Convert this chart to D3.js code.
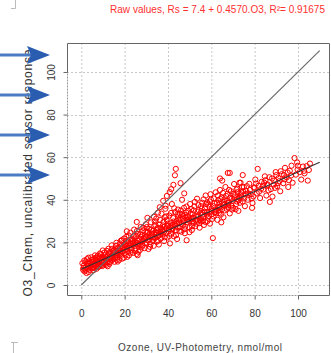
<!DOCTYPE html>
<html>
<head>
<meta charset="utf-8">
<script src="https://cdn.jsdelivr.net/npm/d3@7"></script>
<style>
  body { margin: 0; background: #fff; }
  svg { display: block; font-family: "Liberation Sans", Arial, sans-serif; }
</style>
</head>
<body>
<div id="chart"></div>
<script>
// title / axis texts
const titleText = "Raw values, Rs = 7.4 + 0.4570.O3, R\u00b2= 0.91675";
const xLabel = "Ozone, UV-Photometry, nmol/mol";
const yLabel = "O3_Chem, uncalibrated sensor response";

// tick values
const xTicks = [0, 20, 40, 60, 80, 100];
const yTicks = [0, 20, 40, 60, 80, 100];

// fit lines: intercept, slope, x-range
const fitLine = { a: 7.4, b: 0.457 };
const lineRange = [0, 110];

// ozone (UV photometry) vs sensor response
const pointsLow = [
  [0.8,7.2],[1.2,9.1],[1.5,6.4],[1.9,10.8],[2.2,8.3],[2.6,12.1],[2.9,7.5],[3.1,9.9],[3.4,6.1],[3.7,11.2],
  [4.0,8.6],[4.3,10.4],[4.6,13.0],[4.9,7.8],[5.2,9.5],[5.5,11.9],[5.8,8.2],[6.1,10.1],[6.4,12.7],[6.7,9.0],
  [7.0,7.6],[7.3,11.4],[7.6,13.8],[7.9,10.0],[8.2,8.7],[8.5,12.3],[8.8,9.6],[9.1,14.5],[9.4,11.0],[9.7,8.9],
  [10.0,12.6],[10.3,10.4],[10.6,15.2],[10.9,9.8],[11.2,13.1],[11.5,11.5],[11.8,16.0],[12.1,10.6],[12.4,14.0],[12.7,12.2],
  [13.0,9.9],[13.3,15.6],[13.6,13.0],[13.9,11.4],[14.2,17.0],[14.5,14.3],[14.8,12.1],[15.1,16.2],[15.4,10.9],[15.7,13.9],
  [16.0,18.3],[16.3,15.0],[16.6,12.9],[16.9,17.2],[17.2,14.6],[17.5,11.8],[17.8,19.5],[18.1,16.1],[18.4,13.7],[18.7,21.0],
  [19.0,15.4],[19.3,17.9],[19.6,12.8],[19.9,19.0],[20.2,16.6],[20.5,14.2],[20.8,22.6],[21.1,18.2],[21.4,15.7],[21.7,20.4],
  [22.0,13.9],[22.3,17.5],[22.6,24.5],[22.9,19.3],[23.2,16.4],[23.5,21.5],[23.8,15.1],[24.1,18.8],[24.4,26.0],[24.7,20.1],
  [25.0,17.2],[25.3,22.8],[25.6,14.6],[25.9,19.7],[26.2,24.0],[26.5,18.0],[26.8,21.3],[27.1,16.5],[27.4,27.2],[27.7,20.5],
  [28.0,23.4],[28.3,18.6],[28.6,25.6],[28.9,21.7],[29.2,17.3],[29.5,22.4],[29.8,28.5],[30.1,19.8],[30.4,24.6],[30.7,21.0],
  [31.0,16.9],[31.3,26.3],[31.6,22.5],[31.9,19.1],[32.2,29.4],[32.5,23.8],[32.8,20.7],[33.1,25.5],[33.4,18.4],[33.7,27.6],
  [34.0,22.0],[34.3,24.9],[34.6,31.2],[34.9,20.3],[35.2,26.8],[35.5,23.1],[35.8,19.0],[36.1,28.3],[36.4,25.0],[36.7,21.8],
  [37.0,33.5],[37.3,26.1],[37.6,23.7],[37.9,29.6],[38.2,20.6],[38.5,27.4],[38.8,35.8],[39.1,24.4],[39.4,30.5],[39.7,22.3],
  [40.0,27.9],[40.3,25.3],[40.6,32.6],[40.9,19.5],[41.2,29.0],[41.5,24.1],[41.8,38.0],[42.1,26.7],[42.4,31.4],[42.7,22.9],
  [43.0,28.6],[43.3,34.2],[43.6,25.6],[43.9,30.0],[44.2,21.6],[44.5,27.0],[44.8,32.1],[45.1,29.3],
  [1.0,8.0],[2.0,7.0],[3.0,8.9],[4.5,9.1],[5.0,10.6],[6.0,9.2],[7.5,10.3],[8.0,11.1],[9.0,10.8],[10.5,11.6],
  [11.0,12.4],[12.0,13.2],[13.5,12.5],[14.0,13.6],[15.0,14.9],[16.5,14.1],[17.0,16.0],[18.0,15.2],[19.5,16.3],[20.0,17.8],
  [21.0,16.9],[22.5,18.6],[23.0,17.4],[24.0,19.9],[25.5,19.0],[26.0,20.8],[27.0,19.2],[28.5,20.6],[29.0,21.4],[30.0,22.6],
  [31.5,21.5],[32.0,23.0],[33.0,22.4],[34.5,23.6],[35.0,24.5],[36.0,23.4],[37.5,25.4],[38.0,24.8],[39.0,26.5],[40.5,26.2],
  [41.0,27.2],[42.0,25.9],[43.5,27.7],[44.0,28.8],[45.5,27.5],
  [0.5,10.2],[1.4,11.5],[2.4,5.6],[3.3,12.8],[3.9,7.1],[4.8,11.8],[5.6,6.9],[6.3,13.9],[6.9,11.6],[7.8,8.4],
  [8.6,14.8],[9.3,9.2],[9.9,16.2],[10.8,13.9],[11.6,9.4],[12.5,17.0],[13.2,10.8],[14.0,18.6],[14.7,15.8],[15.5,12.6],
  [16.2,19.8],[16.8,11.0],[17.6,17.6],[18.3,20.8],[18.9,12.4],[19.7,21.8],[20.4,19.2],[21.2,13.2],[21.9,23.2],[22.7,15.2],
  [23.4,20.6],[24.2,23.0],[24.9,16.0],[25.7,25.4],[26.4,15.6],[27.2,23.8],[27.9,17.8],[28.7,26.8],[29.4,19.6],[30.2,27.2],
  [30.9,23.4],[31.7,17.9],[32.4,26.0],[33.2,21.2],[33.9,29.8],[34.7,25.8],[35.4,20.8],[36.3,30.6],[36.9,24.2],[37.7,28.0],
  [38.4,22.4],[39.2,32.2],[39.9,28.8],[40.7,23.0],[41.4,33.8],[42.2,28.2],[42.9,36.0],[43.7,23.4],[44.4,33.2],[45.3,25.4],
  [2.8,10.5],[5.3,8.3],[7.1,12.9],[9.6,13.0],[12.9,14.8],[15.9,16.9],[18.6,18.3],[21.6,19.5],[24.6,21.8],[27.6,22.6],
  [30.6,25.0],[33.6,24.4],[36.6,26.8],[39.6,27.6],[42.6,29.8],[45.0,30.6],
  [3.6,10.0],[8.3,13.4],[12.2,8.8],[16.4,11.8],[20.6,20.6],[26.0,14.0],[29.6,25.0],[34.2,28.2],[38.6,31.8],[44.6,35.4]
];

const pointsMid = [
  [45.8,30.8],[46.2,25.0],[46.6,33.4],[47.0,28.1],[47.4,36.2],[47.8,24.3],[48.2,31.6],[48.6,21.0],[49.0,29.5],[49.4,34.8],
  [49.8,27.0],[50.2,38.0],[50.6,31.0],[51.0,25.8],[51.4,33.2],[51.8,29.1],[52.2,36.9],[52.6,27.6],[53.0,32.4],[53.4,40.5],
  [53.8,30.2],[54.2,35.1],[54.6,26.9],[55.0,33.8],[55.4,29.8],[55.8,38.6],[56.2,31.9],[56.6,28.2],[57.0,36.0],[57.4,42.0],
  [57.8,33.0],[58.2,30.0],[58.6,37.8],[59.0,34.4],[59.4,28.8],[59.8,40.1],[60.2,35.6],[60.7,22.0],[61.0,32.2],[61.5,38.4],
  [62.0,43.5],[62.4,34.9],[62.8,30.6],[63.2,39.8],[63.6,36.4],[64.0,44.6],[64.4,33.0],[64.8,41.2],[65.2,37.6],[65.6,31.8],
  [66.0,40.2],[66.5,46.0],[67.0,35.8],[67.5,42.8],[68.0,38.7],[68.5,33.6],[69.0,44.0],[69.5,40.6],[70.0,36.2],[70.5,47.4],
  [71.0,42.2],[71.5,38.0],[72.0,45.2],[72.5,34.8],[73.0,41.0],[73.5,48.0],[74.0,43.4],[74.5,39.2],[75.0,46.0],[75.5,37.0],
  [47.2,29.9],[48.8,30.5],[50.0,30.0],[52.0,31.5],[54.0,32.2],[56.0,33.0],[58.0,34.2],[60.0,34.6],[62.0,35.5],[64.0,36.8],
  [66.0,37.6],[68.0,38.4],[70.0,39.6],[72.0,40.4],[74.0,41.5],
  [46.0,35.0],[46.9,31.2],[47.6,26.2],[48.4,34.0],[49.2,32.2],[49.9,24.8],[50.8,35.6],[51.6,31.6],[52.4,39.0],[53.2,28.8],
  [54.0,37.6],[54.8,30.6],[55.6,35.8],[56.4,40.2],[57.2,29.6],[58.0,38.8],[58.8,32.4],[59.6,42.6],[60.4,31.0],[61.2,40.6],
  [62.2,33.6],[63.0,42.0],[63.8,38.2],[64.6,29.4],[65.4,43.2],[66.2,35.0],[67.2,39.6],[68.2,44.6],[69.2,37.2],[70.2,42.8],
  [71.2,35.6],[72.2,43.6],[73.2,38.6],[74.2,46.0],[75.2,40.6],
  [48.0,32.8],[51.2,29.9],[55.2,31.4],[59.2,36.6],[63.4,35.0],[67.8,36.4],[71.8,39.2],
  [45.4,33.6],[46.4,28.6],[47.1,32.4],[47.9,27.4],[48.5,36.8],[49.5,30.8],[50.4,33.6],[51.1,27.6],[51.9,35.0],[52.8,30.4],
  [53.6,34.2],[54.4,29.0],[55.3,37.0],[56.1,30.0],[56.9,34.4],[57.6,38.0],[58.4,31.6],[59.3,39.2],[60.1,33.2],[60.9,37.0],
  [61.7,34.2],[62.6,38.6],[63.5,33.8],[64.2,40.4],[65.0,35.6],[65.8,39.0],[66.8,41.8],[67.6,37.4],[68.6,40.8],[69.6,35.4],
  [70.6,41.2],[71.6,44.8],[72.6,39.8],[73.6,42.6],[74.6,44.0]
];

const pointsHigh = [
  [76.0,44.2],[76.8,40.0],[77.5,47.5],[78.2,42.6],[79.0,38.5],[79.6,45.8],[80.3,49.5],[81.0,43.0],[81.4,54.5],[81.8,46.6],
  [82.5,40.8],[83.2,48.4],[84.0,44.8],[84.7,51.0],[85.4,42.0],[86.0,47.2],[86.8,50.6],[87.5,45.0],[88.2,41.5],[89.0,49.0],
  [89.7,53.0],[90.4,46.4],[91.0,50.2],[91.8,44.0],[92.5,52.0],[93.2,47.8],[94.0,55.0],[94.8,50.5],[95.5,46.0],[96.2,53.6],
  [97.0,56.0],[97.5,48.0],[98.4,59.6],[99.0,51.8],[99.6,57.5],[100.0,56.0],[100.8,53.0],[101.5,49.5],[102.3,55.6],[103.0,52.4],
  [104.5,49.0],[105.0,54.0],[105.5,57.0],[78.8,36.2],[87.0,39.0],
  [77.0,43.0],[80.0,45.6],[83.0,45.2],[85.8,46.8],[88.8,47.2],[91.5,48.8],[93.8,49.6],[96.8,51.4],[99.8,54.2],[102.8,53.6],
  [104.0,55.8],[79.4,41.6],[84.4,48.0],[90.0,51.6],[95.2,52.8],
  [75.8,42.6],[76.4,46.4],[77.8,44.6],[78.6,40.6],[80.6,47.6],[82.0,43.8],[83.8,46.6],[85.0,49.2],[86.4,44.4],[88.0,50.0],
  [89.4,45.6],[90.8,47.8],[92.0,53.4],[93.6,51.6],[95.8,49.2]
];

// points sprayed above the band, towards the 1:1 line
const outliers = [
  [33.5,32.0],[36.2,36.5],[37.8,39.5],[39.5,41.8],[40.8,43.6],[42.5,47.0],[43.2,51.5],[43.6,54.5],[45.8,47.8],[41.5,45.0],
  [38.9,37.2],[35.4,34.0],[25.6,29.6],[21.0,25.2],[30.5,31.5],[46.5,40.0],[47.5,43.0],
  [64.0,50.0],[65.0,49.0],[67.6,52.6],[68.5,52.6],[73.0,48.0],[74.5,51.6]
];

// arrows overlaid on the y label (pixel rows of the annotation)
const arrowRows = [55, 95, 135, 175];

const width = 331, height = 353;
const plot = { left: 67, right: 329, top: 43, bottom: 295 };

const x = d3.scaleLinear().domain([-6.6, 114.3]).range([plot.left, plot.right]);
const y = d3.scaleLinear().domain([-4.7, 113.6]).range([plot.bottom, plot.top]);

const svg = d3.select("#chart").append("svg")
  .attr("width", width)
  .attr("height", height);

// corner marks of the cropped page
svg.append("path")
  .attr("d", "M15.5,0V8.5H11")
  .attr("fill", "none").attr("stroke", "#bbb");
svg.append("path")
  .attr("d", "M11,342.5H18M13.5,342.5V353")
  .attr("fill", "none").attr("stroke", "#bbb");

// grid
const grid = svg.append("g").attr("stroke", "#c8c8c8").attr("stroke-dasharray", "2,2");
grid.selectAll(".gx").data(xTicks).enter().append("line")
  .attr("x1", d => x(d) + 0.5).attr("x2", d => x(d) + 0.5)
  .attr("y1", plot.top).attr("y2", plot.bottom);
grid.selectAll(".gy").data(yTicks).enter().append("line")
  .attr("y1", d => Math.round(y(d)) + 0.5).attr("y2", d => Math.round(y(d)) + 0.5)
  .attr("x1", plot.left).attr("x2", plot.right);

// points
const allPoints = pointsLow.concat(pointsMid, pointsHigh, outliers);
svg.append("g").selectAll("circle")
  .data(allPoints).enter().append("circle")
  .attr("cx", d => x(d[0]))
  .attr("cy", d => y(d[1]))
  .attr("r", 2.6)
  .attr("fill", "none")
  .attr("stroke", "#ff0000")
  .attr("stroke-width", 1);

// 1:1 line and fitted line
const line = d3.line().x(d => x(d[0])).y(d => y(d[1]));
svg.append("path")
  .datum(lineRange.map(v => [v, v]))
  .attr("d", line)
  .attr("fill", "none").attr("stroke", "#666").attr("stroke-width", 1.1);
svg.append("path")
  .datum(lineRange.map(v => [v, fitLine.a + fitLine.b * v]))
  .attr("d", line)
  .attr("fill", "none").attr("stroke", "#333").attr("stroke-width", 1.1);

// frame (solid outside the axis range)
const x0 = Math.round(x(0)) + 0.5, x100 = Math.round(x(100)) + 0.5;
const y0 = Math.round(y(0)) + 0.5, y100 = Math.round(y(100)) + 0.5;
svg.append("path")
  .attr("d", "M" + (plot.left + 0.5) + "," + y100 + "V" + (plot.top + 0.5) + "H" + (plot.right + 0.5) +
             "V" + (plot.bottom + 0.5) + "H" + x100 +
             "M" + x0 + "," + (plot.bottom + 0.5) + "H" + (plot.left + 0.5) + "V" + y0)
  .attr("fill", "none").attr("stroke", "#666");

// x-axis
const xAxis = svg.append("g")
  .attr("transform", "translate(0," + (plot.bottom + 0.5) + ")")
  .call(d3.axisBottom(x).tickValues(xTicks).tickSize(4).tickPadding(10).tickSizeOuter(0));
xAxis.select(".domain").attr("d", "M" + x0 + ",0H" + x100).attr("stroke", "#999").attr("stroke-dasharray", "2,1");
xAxis.selectAll(".tick line").attr("stroke", "#666");
xAxis.selectAll(".tick text").attr("fill", "#333").style("font-size", "10px");

// y-axis (labels rotated, R style)
const yAxis = svg.append("g")
  .attr("transform", "translate(" + (plot.left + 0.5) + ",0)")
  .call(d3.axisLeft(y).tickValues(yTicks).tickSize(4).tickSizeOuter(0));
yAxis.select(".domain").attr("d", "M0," + y0 + "V" + y100).attr("stroke", "#999").attr("stroke-dasharray", "2,1");
yAxis.selectAll(".tick line").attr("stroke", "#666");
yAxis.selectAll(".tick text")
  .attr("x", 0).attr("dy", null)
  .attr("transform", "translate(-13,0) rotate(-90)")
  .attr("text-anchor", "middle")
  .attr("fill", "#333")
  .style("font-size", "10px");

// axis titles
svg.append("text")
  .attr("x", 200).attr("y", 351)
  .attr("text-anchor", "middle")
  .attr("fill", "#444")
  .attr("textLength", 164)
  .style("font-size", "10px")
  .text(xLabel);

svg.append("text")
  .attr("transform", "translate(32,173) rotate(-90)")
  .attr("text-anchor", "middle")
  .attr("fill", "#333")
  .attr("textLength", 247)
  .style("font-size", "12px")
  .text(yLabel);

// title
svg.append("text")
  .attr("x", 325).attr("y", 13)
  .attr("text-anchor", "end")
  .attr("fill", "#ff3030")
  .attr("textLength", 215)
  .style("font-size", "10px")
  .text(titleText);

// blue arrows
const arrows = svg.append("g");
arrows.selectAll(".shaft").data(arrowRows).enter().append("rect")
  .attr("x", 0).attr("y", d => d - 1.5)
  .attr("width", 32).attr("height", 3)
  .attr("fill", "#4a7cc4");
arrows.selectAll(".head").data(arrowRows).enter().append("path")
  .attr("d", d => "M27," + (d - 9) + "L50," + d + "L27," + (d + 9) + "L31," + d + "Z")
  .attr("fill", "#2a5db0");
</script>
</body>
</html>
